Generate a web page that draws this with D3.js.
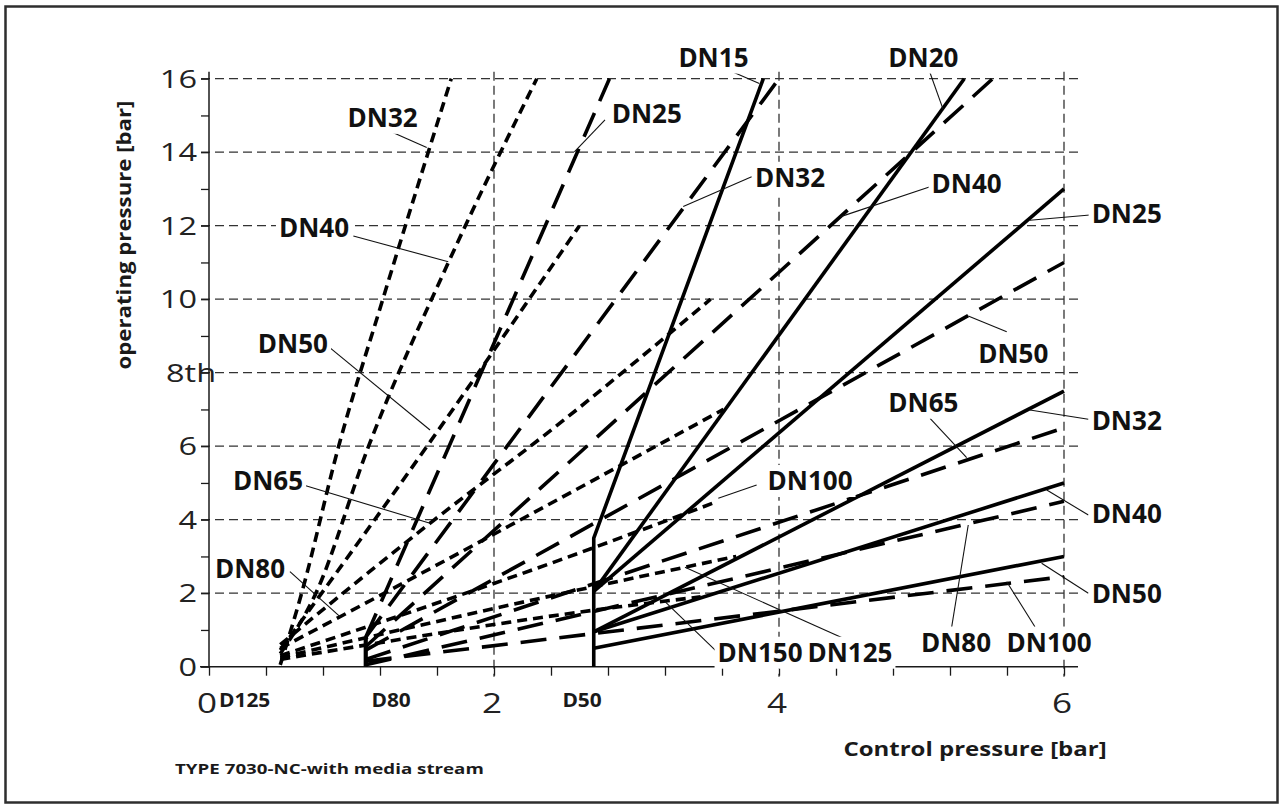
<!DOCTYPE html>
<html>
<head>
<meta charset="utf-8">
<script src="https://cdn.jsdelivr.net/npm/d3@7"></script>
<style>
  body { margin: 0; background: #fff; }
  svg { display: block; font-family: "Open Sans", "Noto Sans", sans-serif; }
</style>
</head>
<body>
<div id="chart"></div>
<script>
// tick labels
var yTickValues = [0, 2, 4, 6, 8, 10, 12, 14, 16];
var yTickLabels = ["0", "2", "4", "6", "8th", "10", "12", "14", "16"];
var xTickValues = [0, 2, 4, 6];
var xTickLabels = ["0", "2", "4", "6"];
var originLabels = ["D125", "D80", "D50"];
var originLabelAt = [0.07, 1.14, 2.48];

// short dashed curves, they start at D125
var shortDashLines = [
  { dn: "DN32",  pts: [[0.5, 0.05], [0.65, 2], [0.91, 6], [1.22, 10], [1.70, 16]] },
  { dn: "DN40",  pts: [[0.5, 0.35], [0.75, 2], [1.12, 6], [1.68, 11], [2.30, 16]] },
  { dn: "DN50",  pts: [[0.5, 0.45], [1.53, 6], [2.60, 12]] },
  { dn: "DN65",  pts: [[0.5, 0.6], [1.55, 3.9], [2.46, 6.62], [3.52, 10]] },
  { dn: "DN80",  pts: [[0.5, 0.5], [0.92, 1.36], [2.98, 5.67], [3.61, 7.0]] },
  { dn: "DN100", pts: [[0.5, 0.3], [2.46, 2.9], [3.57, 4.5]] },
  { dn: "DN125", pts: [[0.5, 0.25], [2.70, 2.18], [3.70, 3.0]] },
  { dn: "DN150", pts: [[0.5, 0.2], [2.88, 1.63], [3.45, 1.9]] }
];

// long dashed lines, they start at D80
var longDashLines = [
  { dn: "stem",  pts: [[1.1, 0], [1.1, 0.8]] },
  { dn: "DN25",  pts: [[1.1, 0.8], [2.81, 16]] },
  { dn: "DN32",  pts: [[1.1, 0.8], [4.0, 16]] },
  { dn: "DN40",  pts: [[1.1, 0.55], [5.5, 16]] },
  { dn: "DN50",  pts: [[1.1, 0.45], [6, 11]] },
  { dn: "DN65",  pts: [[1.1, 0.2], [6, 6.5]] },
  { dn: "DN80",  pts: [[1.1, 0.05], [6, 4.5]] },
  { dn: "DN100", pts: [[1.1, 0.15], [6, 2.45]] }
];

// solid lines, they start at D50
var solidLines = [
  { dn: "DN15", pts: [[2.7, 0], [2.7, 3.5], [3.89, 16]] },
  { dn: "DN20", pts: [[2.7, 2.05], [5.3, 16]] },
  { dn: "DN25", pts: [[2.7, 2.05], [6, 13]] },
  { dn: "DN32", pts: [[2.7, 0.95], [6, 7.5]] },
  { dn: "DN40", pts: [[2.7, 0.95], [6, 5]] },
  { dn: "DN50", pts: [[2.7, 0.5], [6, 3]] }
];

// DN labels: text spot, leader start, leader end (all in chart units)
var dnLabels = [
  { t: "DN32",  x: 1.218, y: 14.69, sx: 1.258, sy: 14.59, ex: 1.528, ey: 14.13 },
  { t: "DN40",  x: 0.737, y: 11.70, sx: 1.013, sy: 11.72, ex: 1.679, ey: 11.02 },
  { t: "DN50",  x: 0.589, y: 8.536, sx: 0.826, sy: 8.75,  ex: 1.551, ey: 6.44 },
  { t: "DN65",  x: 0.414, y: 4.81,  sx: 0.662, sy: 4.944, ex: 1.551, ey: 3.902 },
  { t: "DN80",  x: 0.288, y: 2.405, sx: 0.568, sy: 2.585, ex: 0.919, ey: 1.361 },
  { t: "DN25",  x: 3.072, y: 14.79, sx: 2.779, sy: 14.88, ex: 2.564, ey: 14.01 },
  { t: "DN15",  x: 3.54,  y: 16.33, sx: 3.563, sy: 16.37, ex: 3.862, ey: 15.87 },
  { t: "DN32",  x: 4.077, y: 13.06, sx: 3.808, sy: 13.33, ex: 3.328, ey: 12.52 },
  { t: "DN20",  x: 5.013, y: 16.33, sx: 5.036, sy: 16.42, ex: 5.153, ey: 15.15 },
  { t: "DN40",  x: 5.317, y: 12.89, sx: 5.06,  sy: 13.06, ex: 4.428, ey: 12.24 },
  { t: "DN25",  x: 6.44,  y: 12.08, sx: 6.182, sy: 12.29, ex: 5.761, ey: 12.15 },
  { t: "DN50",  x: 5.644, y: 8.256, sx: 5.598, sy: 9.116, ex: 5.328, ey: 9.543 },
  { t: "DN65",  x: 5.013, y: 6.939, sx: 5.06,  sy: 6.759, ex: 5.317, ey: 5.687 },
  { t: "DN32",  x: 6.44,  y: 6.441, sx: 6.171, sy: 6.732, ex: 5.761, ey: 6.985 },
  { t: "DN100", x: 4.218, y: 4.808, sx: 3.843, sy: 4.944, ex: 3.574, ey: 4.582 },
  { t: "DN40",  x: 6.44,  y: 3.902, sx: 6.171, sy: 4.128, ex: 5.879, ey: 4.808 },
  { t: "DN50",  x: 6.44,  y: 1.725, sx: 6.171, sy: 1.997, ex: 5.843, ey: 2.814 },
  { t: "DN80",  x: 5.242, y: 0.408, sx: 5.212, sy: 1.088, ex: 5.328, ey: 3.856 },
  { t: "DN100", x: 5.895, y: 0.408, sx: 5.796, sy: 1.088, ex: 5.598, ey: 2.313 },
  { t: "DN150", x: 3.867, y: 0.136, sx: 3.563, sy: 0.408, ex: 3.2,   ey: 1.769 },
  { t: "DN125", x: 4.498, y: 0.136, sx: 4.451, sy: 0.773, ex: 3.34,  ey: 2.705 }
];

var svgWidth = 1284;
var svgHeight = 809;

var svg = d3.select("#chart")
  .append("svg")
  .attr("width", svgWidth)
  .attr("height", svgHeight);

// outer frame
svg.append("rect")
  .attr("x", 5.5).attr("y", 6.5)
  .attr("width", 1272).attr("height", 796)
  .attr("fill", "none")
  .attr("stroke", "#2e2e2e")
  .attr("stroke-width", 2.5);

var xScale = d3.scaleLinear().domain([0, 6]).range([209, 1064]);
var yScale = d3.scaleLinear().domain([0, 16]).range([666.7, 78.7]);

var ink = "#1a1a1a";

// grid
var grid = svg.append("g")
  .attr("stroke", "#333")
  .attr("stroke-width", 1.3)
  .attr("stroke-dasharray", "9,5");

grid.selectAll("line.h")
  .data(yTickValues.filter(d => d > 0))
  .enter().append("line")
  .attr("class", "h")
  .attr("x1", xScale(0) - 8).attr("x2", xScale(6) + 14)
  .attr("y1", d => yScale(d)).attr("y2", d => yScale(d));

grid.selectAll("line.v")
  .data(xTickValues.filter(d => d > 0))
  .enter().append("line")
  .attr("class", "v")
  .attr("x1", d => xScale(d)).attr("x2", d => xScale(d))
  .attr("y1", yScale(16) - 7).attr("y2", yScale(0) + 10);

// axes: ticks from d3, axis lines drawn a bit longer than the range
var yAxis = d3.axisLeft(yScale).tickValues(d3.range(0, 17, 1)).tickSize(8).tickFormat("");
var yAxisG = svg.append("g").attr("transform", `translate(${xScale(0)},0)`).call(yAxis);
yAxisG.select(".domain").remove();
yAxisG.selectAll("line").attr("stroke", ink).attr("stroke-width", 1.3);

var xAxis = d3.axisBottom(xScale).tickValues(d3.range(0, 6.01, 0.4)).tickSize(9).tickFormat("");
var xAxisG = svg.append("g").attr("transform", `translate(0,${yScale(0)})`).call(xAxis);
xAxisG.select(".domain").remove();
xAxisG.selectAll("line").attr("stroke", ink).attr("stroke-width", 1.3);

svg.append("line")
  .attr("x1", xScale(0)).attr("x2", xScale(0))
  .attr("y1", yScale(16) - 7).attr("y2", yScale(0))
  .attr("stroke", ink).attr("stroke-width", 1.5);
svg.append("line")
  .attr("x1", xScale(0) - 9).attr("x2", xScale(6) + 14)
  .attr("y1", yScale(0)).attr("y2", yScale(0))
  .attr("stroke", ink).attr("stroke-width", 1.5);

// tick labels (the digits in the source are wide, so they are stretched a bit)
svg.selectAll("text.ytick")
  .data(yTickValues)
  .enter().append("text")
  .attr("class", "ytick")
  .attr("transform", (d, i) => {
    var lab = yTickLabels[i];
    var px = isNaN(+lab) ? 166 : 197;
    return `translate(${px},${yScale(d) + 9}) scale(1.3,1)`;
  })
  .attr("text-anchor", (d, i) => isNaN(+yTickLabels[i]) ? "start" : "end")
  .style("font-size", "25px")
  .attr("fill", "#222")
  .text((d, i) => yTickLabels[i]);

svg.selectAll("text.xtick")
  .data(xTickValues)
  .enter().append("text")
  .attr("class", "xtick")
  .attr("transform", d => `translate(${xScale(d) - 2},${yScale(0) + 46}) scale(1.3,1)`)
  .attr("text-anchor", "middle")
  .style("font-size", "27px")
  .attr("fill", "#222")
  .text((d, i) => xTickLabels[i]);

svg.selectAll("text.orig")
  .data(originLabels)
  .enter().append("text")
  .attr("class", "orig")
  .attr("transform", (d, i) => `translate(${xScale(originLabelAt[i])},${yScale(0) + 40}) scale(1.1,1)`)
  .style("font-size", "19px")
  .style("font-weight", "bold")
  .attr("fill", ink)
  .text(d => d);

// curves
var lineGen = d3.line()
  .x(d => xScale(d[0]))
  .y(d => yScale(d[1]));

var curveGen = d3.line()
  .x(d => xScale(d[0]))
  .y(d => yScale(d[1]))
  .curve(d3.curveMonotoneX);

svg.append("g").selectAll("path")
  .data(shortDashLines)
  .enter().append("path")
  .attr("d", d => curveGen(d.pts))
  .attr("fill", "none")
  .attr("stroke", "#000")
  .attr("stroke-width", 3.6)
  .attr("stroke-dasharray", "10,6");

svg.append("g").selectAll("path")
  .data(longDashLines)
  .enter().append("path")
  .attr("d", d => lineGen(d.pts))
  .attr("fill", "none")
  .attr("stroke", "#000")
  .attr("stroke-width", d => d.dn == "stem" ? 4.2 : 3.6)
  .attr("stroke-dasharray", d => d.dn == "stem" ? null : "26,13");

svg.append("g").selectAll("path")
  .data(solidLines)
  .enter().append("path")
  .attr("d", d => lineGen(d.pts))
  .attr("fill", "none")
  .attr("stroke", "#000")
  .attr("stroke-width", 3.6)
  .attr("stroke-linejoin", "round");

// leaders
svg.append("g").selectAll("line")
  .data(dnLabels)
  .enter().append("line")
  .attr("x1", d => xScale(d.sx)).attr("y1", d => yScale(d.sy))
  .attr("x2", d => xScale(d.ex)).attr("y2", d => yScale(d.ey))
  .attr("stroke", "#111")
  .attr("stroke-width", 1.1);

// labels with white boxes behind them
var labG = svg.append("g");
var labText = labG.selectAll("text")
  .data(dnLabels)
  .enter().append("text")
  .attr("x", d => xScale(d.x))
  .attr("y", d => yScale(d.y))
  .attr("text-anchor", "middle")
  .style("font-size", "26px")
  .style("font-weight", "bold")
  .attr("fill", "#111")
  .text(d => d.t);

labText.each(function() {
  var b = this.getBBox();
  labG.insert("rect", "text")
    .attr("x", b.x - 3).attr("y", b.y + 3)
    .attr("width", b.width + 6).attr("height", b.height - 4)
    .attr("fill", "#fff");
});

// titles (stretched along the reading direction like the source)
svg.append("text")
  .attr("transform", "translate(131,235) rotate(-90) scale(1.17,1)")
  .attr("text-anchor", "middle")
  .style("font-size", "19px")
  .style("font-weight", "bold")
  .attr("fill", ink)
  .text("operating pressure [bar]");

svg.append("text")
  .attr("transform", "translate(975,756) scale(1.2,1)")
  .attr("text-anchor", "middle")
  .style("font-size", "20px")
  .style("font-weight", "bold")
  .attr("fill", ink)
  .text("Control pressure [bar]");

svg.append("text")
  .attr("transform", "translate(175,774) scale(1.25,1)")
  .style("font-size", "15px")
  .style("font-weight", "bold")
  .attr("fill", ink)
  .text("TYPE 7030-NC-with media stream");
</script>
</body>
</html>
